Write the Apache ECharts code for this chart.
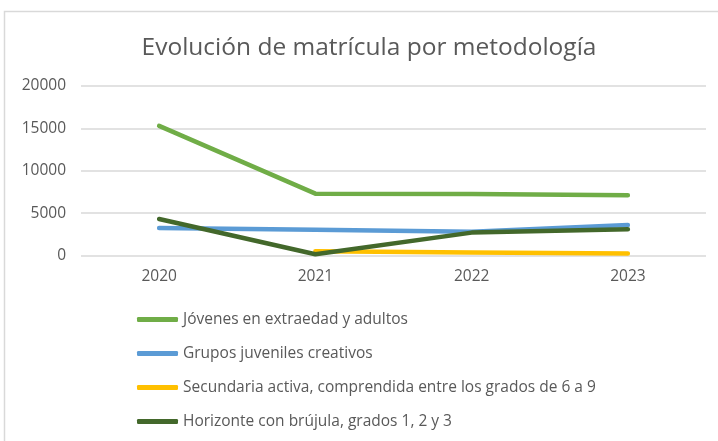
<!DOCTYPE html>
<html>
<head>
<meta charset="utf-8">
<script src="https://cdn.jsdelivr.net/npm/echarts@6/dist/echarts.min.js"></script>
<style>
  html, body { margin: 0; padding: 0; background: #fff; }
  #chart { width: 718px; height: 441px; }
</style>
</head>
<body>
<div id="chart"></div>
<script>
const years = ['2020', '2021', '2022', '2023']
const jovenes = [15300, 7300, 7250, 7100]
const grupos = [3250, 3050, 2800, 3600]
const secundaria = [null, 500, 350, 250]
const horizonte = [4300, 150, 2700, 3100]

const seriesNames = [
  'Jóvenes en extraedad y adultos',
  'Grupos juveniles creativos',
  'Secundaria activa, comprendida entre los grados de 6 a 9',
  'Horizonte con brújula, grados 1, 2 y 3'
]
const seriesColors = ['#70ad47', '#5b9bd5', '#ffc000', '#43682b']

const font = 'Open Sans'
const chart = echarts.init(document.getElementById('chart'))

chart.setOption({
  animation: false,
  textStyle: { fontFamily: font },
  graphic: [{
    type: 'rect',
    shape: { x: 4.5, y: 11.5, width: 730, height: 440 },
    style: { fill: 'none', stroke: '#d9d9d9', lineWidth: 1.5 },
    silent: true
  }],
  title: {
    text: 'Evolución de matrícula por metodología',
    left: 364,
    textAlign: 'center',
    top: 31,
    textStyle: { fontFamily: font, fontSize: 24.5, fontWeight: 'normal', color: '#595959' }
  },
  legend: {
    orient: 'vertical',
    left: 137,
    top: 311,
    padding: 0,
    itemWidth: 41,
    itemHeight: 5,
    itemGap: 17,
    icon: 'roundRect',
    textStyle: { fontFamily: font, fontSize: 15.5, lineHeight: 17, color: '#595959' },
    data: seriesNames
  },
  grid: { left: 81, right: 12, top: 86, bottom: 185.5 },
  xAxis: {
    type: 'category',
    data: years,
    boundaryGap: true,
    axisLine: { show: false },
    axisTick: { show: false },
    axisLabel: { color: '#595959', fontSize: 15.5, margin: 13 }
  },
  yAxis: {
    type: 'value',
    min: 0,
    max: 20000,
    interval: 5000,
    axisLine: { show: false },
    axisTick: { show: false },
    axisLabel: { color: '#595959', fontSize: 15.5, margin: 15, formatter: v => String(v) },
    splitLine: { lineStyle: { color: '#d9d9d9', width: 1.5 } }
  },
  series: [jovenes, grupos, secundaria, horizonte].map((data, i) => ({
    name: seriesNames[i],
    type: 'line',
    data: data,
    symbol: 'none',
    connectNulls: false,
    lineStyle: { color: seriesColors[i], width: 4.5, cap: 'round', join: 'round' },
    itemStyle: { color: seriesColors[i] }
  }))
})
</script>
</body>
</html>
